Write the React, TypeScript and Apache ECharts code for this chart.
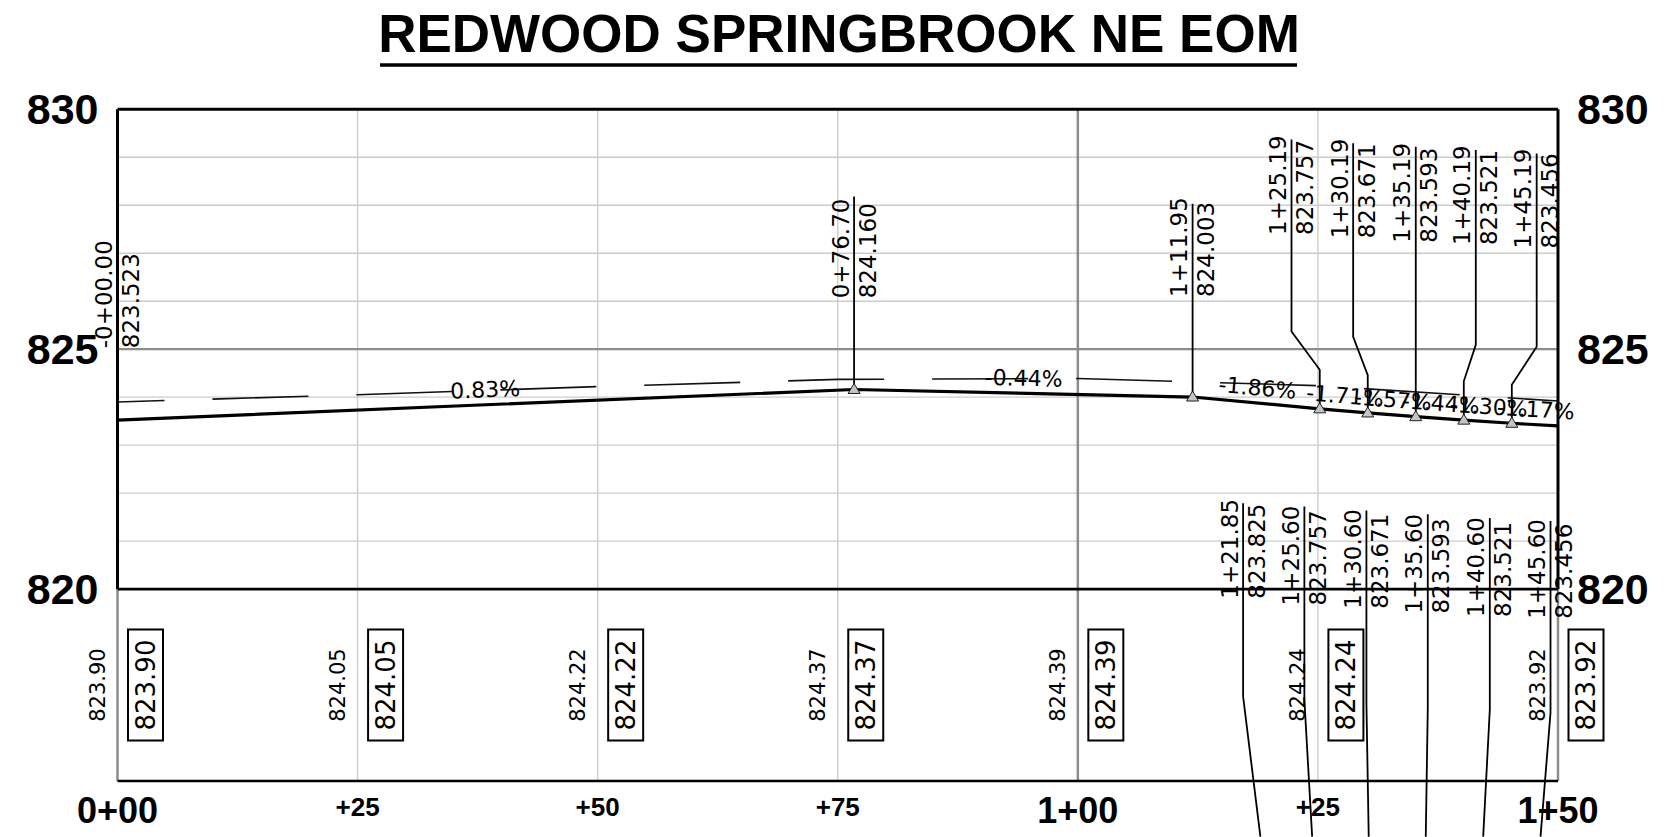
import React, { useEffect, useRef } from 'react';
import * as echarts from 'echarts';

const TITLE = 'REDWOOD SPRINGBROOK NE EOM';

// Proposed profile: PVI stations (ft) and elevations
const profileStations = [0, 76.7, 111.95, 125.19, 130.19, 135.19, 140.19, 145.19, 150];
const profileElevations = [823.523, 824.16, 824.003, 823.757, 823.671, 823.593, 823.521, 823.456, 823.4];
const profileStationLabels = ['-0+00.00', '0+76.70', '1+11.95', '1+25.19', '1+30.19', '1+35.19', '1+40.19', '1+45.19'];
const profileElevationLabels = ['823.523', '824.160', '824.003', '823.757', '823.671', '823.593', '823.521', '823.456'];
const profileMarker = [false, true, true, true, true, true, true, true];
const slopeLabels = ['0.83%', '-0.44%', '-1.86%', '-1.71%', '-1.57%', '-1.44%', '-1.30%', '-1.17%'];

// Upper callout leaders (axis units)
const calloutLeaderTop = [null, 828.18, 828.03, 829.37, 829.29, 829.22, 829.15, 829.08];
const calloutLeaderStation = [null, null, null, 122.25, 128.67, null, 141.44, 147.78];
const calloutJogLow = [null, null, null, 824.57, 824.46, null, 824.33, 824.26];
const calloutJogHigh = [null, null, null, 825.37, 825.26, null, 825.09, 825.05];
const calloutTextBase = [825.02, 826.06, 826.09, 827.38, 827.31, 827.22, 827.17, 827.1];

// Existing ground
const existingStations = [0, 25, 50, 75, 100, 125, 150];
const existingElevations = [823.9, 824.05, 824.22, 824.37, 824.39, 824.24, 823.92];

// Lower callouts (from the view below, cut off)
const lowerStationLabels = ['1+21.85', '1+25.60', '1+30.60', '1+35.60', '1+40.60', '1+45.60'];
const lowerElevationLabels = ['823.825', '823.757', '823.671', '823.593', '823.521', '823.456'];
const lowerLeaderStation = [117.21, 123.59, 130.05, 136.44, 142.9, 149.22];
const lowerLeaderTop = [821.79, 821.72, 821.64, 821.56, 821.48, 821.42];
const lowerLeaderBend = [817.76, 817.69, 817.63, 817.52, 817.49, 817.42];
const lowerLeaderEndStation = [119.01, 124.4, 130.29, 136.23, 142.21, 148.18];
const lowerLeaderEndElevation = 814.84;
const lowerTextBase = [819.8, 819.66, 819.59, 819.49, 819.42, 819.38];

// Axes and grid
const X_MIN = 0;
const X_MAX = 150;
const Y_MIN = 816;
const Y_MAX = 830;
const BAND_TOP = 820;
const BAND_MID = 818;
const stationTickLabels = ['0+00', '+25', '+50', '+75', '1+00', '+25', '1+50'];
const elevationTicks = [820, 825, 830];
const gridMinorElevations = [821, 822, 823, 824, 826, 827, 828, 829];
const gridMajorElevations = [825];
const gridMinorStations = [25, 50, 75, 125];
const gridMajorStations = [100];

const CAD_FONT = 'DejaVu Sans';
const BOLD_FONT = 'Liberation Sans';

const lineEl = (a: number[], b: number[], stroke: string, lineWidth: number) => ({
  type: 'line',
  shape: { x1: a[0], y1: a[1], x2: b[0], y2: b[1] },
  style: { stroke, lineWidth },
});

const vText = (x: number, y: number, text: string, fontSize: number, extra: any = {}) => ({
  type: 'text',
  x,
  y,
  rotation: Math.PI / 2,
  style: {
    text,
    fill: '#000',
    fontSize,
    fontFamily: CAD_FONT,
    align: 'left',
    verticalAlign: 'middle',
    ...extra,
  },
});

const hLines = (vals: number[], color: string, width: number, z: number) => ({
  type: 'custom',
  silent: true,
  clip: false,
  z,
  data: vals.map((v) => [X_MIN, v]),
  renderItem: (params: any, api: any) => {
    const v = vals[params.dataIndex];
    return lineEl(api.coord([X_MIN, v]), api.coord([X_MAX, v]), color, width);
  },
});

const vLines = (vals: number[], color: string, width: number, z: number) => ({
  type: 'custom',
  silent: true,
  clip: false,
  z,
  data: vals.map((v) => [v, Y_MIN]),
  renderItem: (params: any, api: any) => {
    const v = vals[params.dataIndex];
    return lineEl(api.coord([v, Y_MAX]), api.coord([v, Y_MIN]), color, width);
  },
});

export default function App() {
  const ref = useRef<HTMLDivElement>(null);

  useEffect(() => {
    if (!ref.current) return;
    const chart = echarts.init(ref.current, undefined, { renderer: 'svg' });

    const frameSeries = {
      type: 'custom',
      silent: true,
      clip: false,
      z: 5,
      data: [[X_MIN, Y_MAX]],
      renderItem: (_p: any, api: any) => {
        const tl = api.coord([X_MIN, Y_MAX]);
        const tr = api.coord([X_MAX, Y_MAX]);
        const ml = api.coord([X_MIN, BAND_TOP]);
        const mr = api.coord([X_MAX, BAND_TOP]);
        const bl = api.coord([X_MIN, Y_MIN]);
        const br = api.coord([X_MAX, Y_MIN]);
        return {
          type: 'group',
          children: [
            lineEl(ml, bl, '#8c8c8c', 2.5),
            lineEl(mr, br, '#8c8c8c', 2.5),
            lineEl(tl, tr, '#000', 3),
            lineEl(tl, ml, '#000', 3),
            lineEl(tr, mr, '#000', 3),
            lineEl(ml, mr, '#000', 2.6),
            lineEl(bl, br, '#000', 2.6),
          ],
        };
      },
    };

    const upperCallouts = {
      type: 'custom',
      silent: true,
      clip: false,
      z: 7,
      data: profileStationLabels.map((_, i) => [profileStations[i], profileElevations[i]]),
      renderItem: (params: any, api: any) => {
        const i = params.dataIndex;
        const st = profileStations[i];
        const p = api.coord([st, profileElevations[i]]);
        const leaderSt = calloutLeaderStation[i] ?? st;
        const children: any[] = [];
        const top = calloutLeaderTop[i];
        if (top != null) {
          const pts: number[][] = [p];
          if (calloutLeaderStation[i] != null) {
            pts.push(api.coord([st, calloutJogLow[i]]));
            pts.push(api.coord([leaderSt, calloutJogHigh[i]]));
          }
          pts.push(api.coord([leaderSt, top]));
          children.push({
            type: 'polyline',
            shape: { points: pts },
            style: { stroke: '#000', lineWidth: 1.8, fill: null },
          });
        }
        if (profileMarker[i]) {
          children.push({
            type: 'polygon',
            shape: { points: [[p[0], p[1] - 6], [p[0] - 6, p[1] + 4], [p[0] + 6, p[1] + 4]] },
            style: { fill: '#c4c4c4', stroke: '#222', lineWidth: 1 },
          });
        }
        const lx = api.coord([leaderSt, Y_MIN])[0];
        const by = api.coord([X_MIN, calloutTextBase[i]])[1];
        children.push(vText(lx - 13.5, by, profileStationLabels[i], 23));
        children.push(vText(lx + 13.5, by, profileElevationLabels[i], 23));
        return { type: 'group', children };
      },
    };

    const slopeSeries = {
      type: 'custom',
      silent: true,
      clip: false,
      z: 7,
      data: slopeLabels.map((_, i) => [profileStations[i], profileElevations[i]]),
      renderItem: (params: any, api: any) => {
        const i = params.dataIndex;
        const a = api.coord([profileStations[i], profileElevations[i]]);
        const b = api.coord([profileStations[i + 1], profileElevations[i + 1]]);
        const dx = b[0] - a[0];
        const dy = b[1] - a[1];
        const len = Math.hypot(dx, dy);
        const off = 15;
        const cx = (a[0] + b[0]) / 2 + (off * dy) / len;
        const cy = (a[1] + b[1]) / 2 - (off * dx) / len;
        return {
          type: 'text',
          x: cx,
          y: cy,
          rotation: Math.atan2(-dy, dx),
          style: {
            text: slopeLabels[i],
            fill: '#000',
            fontSize: 22,
            fontFamily: CAD_FONT,
            align: 'center',
            verticalAlign: 'middle',
          },
        };
      },
    };

    const bandSeries = {
      type: 'custom',
      silent: true,
      clip: false,
      z: 7,
      data: existingStations.map((s, i) => [s, existingElevations[i]]),
      renderItem: (params: any, api: any) => {
        const i = params.dataIndex;
        const p = api.coord([existingStations[i], BAND_MID]);
        const label = existingElevations[i].toFixed(2);
        return {
          type: 'group',
          children: [
            {
              type: 'text',
              x: p[0] - 20,
              y: p[1],
              rotation: Math.PI / 2,
              style: {
                text: label,
                fill: '#000',
                fontSize: 21,
                fontFamily: CAD_FONT,
                align: 'center',
                verticalAlign: 'middle',
              },
            },
            {
              type: 'rect',
              shape: { x: p[0] + 28 - 17.5, y: p[1] - 55.5, width: 35, height: 111 },
              style: { fill: null, stroke: '#000', lineWidth: 2 },
            },
            {
              type: 'text',
              x: p[0] + 28,
              y: p[1],
              rotation: Math.PI / 2,
              style: {
                text: label,
                fill: '#000',
                fontSize: 26,
                fontFamily: CAD_FONT,
                align: 'center',
                verticalAlign: 'middle',
              },
            },
          ],
        };
      },
    };

    const lowerCallouts = {
      type: 'custom',
      silent: true,
      clip: false,
      z: 7,
      data: lowerStationLabels.map((_, i) => [lowerLeaderStation[i], lowerLeaderTop[i]]),
      renderItem: (params: any, api: any) => {
        const i = params.dataIndex;
        const top = api.coord([lowerLeaderStation[i], lowerLeaderTop[i]]);
        const bend = api.coord([lowerLeaderStation[i], lowerLeaderBend[i]]);
        const end = api.coord([lowerLeaderEndStation[i], lowerLeaderEndElevation]);
        const by = api.coord([X_MIN, lowerTextBase[i]])[1];
        return {
          type: 'group',
          children: [
            {
              type: 'polyline',
              shape: { points: [top, bend, end] },
              style: { stroke: '#000', lineWidth: 1.8, fill: null },
            },
            vText(top[0] - 13.5, by, lowerStationLabels[i], 23),
            vText(top[0] + 13.5, by, lowerElevationLabels[i], 23),
          ],
        };
      },
    };

    const yAxisBase = {
      type: 'value',
      min: Y_MIN,
      max: Y_MAX,
      interval: 1,
      axisLine: { show: false },
      axisTick: { show: false },
      splitLine: { show: false },
      axisLabel: {
        margin: 19,
        formatter: (v: number) => (elevationTicks.includes(v) ? String(v) : ''),
        fontSize: 43,
        fontWeight: 'bold',
        fontFamily: BOLD_FONT,
        color: '#000',
      },
    };

    chart.setOption({
      animation: false,
      backgroundColor: '#fff',
      grid: { left: 117.5, right: 109, top: 109.3, bottom: 56, containLabel: false },
      xAxis: {
        type: 'value',
        min: X_MIN,
        max: X_MAX,
        interval: 25,
        axisLine: { show: false },
        axisTick: { show: false },
        splitLine: { show: false },
        axisLabel: {
          margin: 11.5,
          formatter: (v: number) => {
            const lab = stationTickLabels[Math.round(v / 25)] ?? '';
            return lab.startsWith('+') ? `{small|${lab}}` : `{big|${lab}}`;
          },
          rich: {
            big: { fontSize: 36, fontWeight: 'bold', fontFamily: BOLD_FONT, color: '#000', lineHeight: 35 },
            small: { fontSize: 26, fontWeight: 'bold', fontFamily: BOLD_FONT, color: '#000', lineHeight: 28 },
          },
        },
      },
      yAxis: [
        { ...yAxisBase, position: 'left' },
        { ...yAxisBase, position: 'right' },
      ],
      graphic: [
        {
          type: 'text',
          x: 839,
          y: 33.5,
          style: {
            text: TITLE,
            fill: '#000',
            fontSize: 53,
            fontWeight: 'bold',
            fontFamily: BOLD_FONT,
            align: 'center',
            verticalAlign: 'middle',
          },
        },
        {
          type: 'line',
          shape: { x1: 380, y1: 65, x2: 1297, y2: 65 },
          style: { stroke: '#000', lineWidth: 3.5 },
        },
      ],
      series: [
        hLines(gridMinorElevations, '#cccccc', 1.4, 1),
        vLines(gridMinorStations, '#cccccc', 1.4, 1),
        hLines(gridMajorElevations, '#8c8c8c', 2.2, 2),
        vLines(gridMajorStations, '#8c8c8c', 2.5, 2),
        frameSeries,
        {
          type: 'line',
          z: 3,
          data: existingStations.map((s, i) => [s, existingElevations[i]]),
          showSymbol: false,
          symbol: 'none',
          silent: true,
          lineStyle: { color: '#111', width: 1.6, type: [96, 48], dashOffset: 49 },
        },
        {
          type: 'line',
          z: 4,
          data: profileStations.map((s, i) => [s, profileElevations[i]]),
          showSymbol: false,
          symbol: 'none',
          silent: true,
          lineStyle: { color: '#000', width: 3.2 },
        },
        upperCallouts,
        slopeSeries,
        bandSeries,
        lowerCallouts,
      ],
    });

    return () => chart.dispose();
  }, []);

  return (
    <div
      ref={ref}
      style={{ position: 'absolute', left: 0, top: 0, width: 1667, height: 837, background: '#fff' }}
    />
  );
}
